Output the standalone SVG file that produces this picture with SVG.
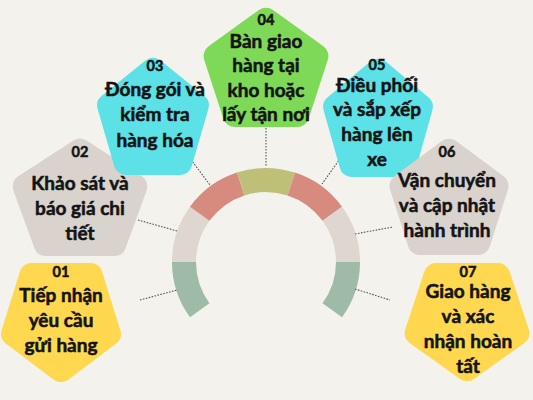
<svg xmlns="http://www.w3.org/2000/svg" width="533" height="400" viewBox="0 0 533 400">
<style>
.bg{fill:#F3F2EC}
.seg{fill:none;stroke-width:24}
.sg{stroke:#9DBBA6}.sb{stroke:#DED6CF}.sr{stroke:#D68B7E}.so{stroke:#BEC078}
.dot{stroke:#555;stroke-width:1.1;stroke-dasharray:1.6 1.4;fill:none}
.pent{stroke-width:24;stroke-linejoin:round}
.yel{fill:#FFD84F;stroke:#FFD84F}
.bei{fill:#DAD3CD;stroke:#DAD3CD}
.cya{fill:#5CE1E6;stroke:#5CE1E6}
.grn{fill:#7ED957;stroke:#7ED957}
text{font-family:Lato,"Noto Sans",sans-serif;font-weight:700;fill:#141414;stroke:#141414;stroke-width:0.55;text-anchor:middle}
.num{font-size:14.5px}
.lbl{font-size:19px}
</style>
<rect class="bg" width="533" height="400"/>
<g id="arc">
<path class="seg sg" d="M199.7 310.2 A82 82 0 0 1 184 262"/>
<path class="seg sb" d="M184 262 A82 82 0 0 1 199.7 213.8"/>
<path class="seg sr" d="M199.7 213.8 A82 82 0 0 1 240.7 184"/>
<path class="seg so" d="M240.7 184 A82 82 0 0 1 291.3 184"/>
<path class="seg sr" d="M291.3 184 A82 82 0 0 1 332.3 213.8"/>
<path class="seg sb" d="M332.3 213.8 A82 82 0 0 1 348 262"/>
<path class="seg sg" d="M348 262 A82 82 0 0 1 332.3 310.2"/>
</g>
<g id="connectors">
<line class="dot" x1="140" y1="300" x2="177" y2="290"/>
<line class="dot" x1="138" y1="220" x2="177" y2="231"/>
<line class="dot" x1="189" y1="157" x2="210" y2="185"/>
<line class="dot" x1="266" y1="128" x2="266" y2="166"/>
<line class="dot" x1="342" y1="156" x2="322" y2="184"/>
<line class="dot" x1="355" y1="234" x2="393" y2="227"/>
<line class="dot" x1="355" y1="289" x2="390" y2="300"/>
</g>
<g id="node01">
<polygon class="pent yel" points="61,370.3 13.1,333.9 31.4,275 90.6,275 108.9,333.9"/>
<text class="num" x="61" y="277">01</text>
<text class="lbl" x="61" y="302">Tiếp nhận</text>
<text class="lbl" x="61" y="327">yêu cầu</text>
<text class="lbl" x="61" y="352">gửi hàng</text>
</g>
<g id="node02">
<polygon class="pent bei" points="80,150.7 135.4,186.4 114.3,244 45.7,244 24.6,186.4"/>
<text class="num" x="80" y="157">02</text>
<text class="lbl" x="80" y="190">Khảo sát và</text>
<text class="lbl" x="80" y="215">báo giá chi</text>
<text class="lbl" x="80" y="240">tiết</text>
</g>
<g id="node03">
<polygon class="pent cya" points="153,69.7 196.9,105.4 180.2,163 125.8,163 109.1,105.4"/>
<text class="num" x="155" y="71">03</text>
<text class="lbl" x="155" y="96">Đóng gói và</text>
<text class="lbl" x="155" y="121">kiểm tra</text>
<text class="lbl" x="155" y="147">hàng hóa</text>
</g>
<g id="node04">
<polygon class="pent grn" points="266,19.7 316.4,56.1 297.2,115 234.8,115 215.6,56.1"/>
<text class="num" x="266" y="25">04</text>
<text class="lbl" x="266" y="48">Bàn giao</text>
<text class="lbl" x="266" y="72">hàng tại</text>
<text class="lbl" x="266" y="97">kho hoặc</text>
<text class="lbl" x="266" y="121">lấy tận nơi</text>
</g>
<g id="node05">
<polygon class="pent cya" points="378,70.7 420.9,106.7 404.5,164.9 351.5,164.9 335.1,106.7"/>
<text class="num" x="377" y="70">05</text>
<text class="lbl" x="377" y="92">Điều phối</text>
<text class="lbl" x="377" y="116">và sắp xếp</text>
<text class="lbl" x="377" y="141">hàng lên</text>
<text class="lbl" x="377" y="166">xe</text>
</g>
<g id="node06">
<polygon class="pent bei" points="449,150.7 496.5,185.9 478.3,243 419.7,243 401.5,185.9"/>
<text class="num" x="447" y="157">06</text>
<text class="lbl" x="447" y="187">Vận chuyển</text>
<text class="lbl" x="447" y="212">và cập nhật</text>
<text class="lbl" x="447" y="237">hành trình</text>
</g>
<g id="node07">
<polygon class="pent yel" points="467,369.3 416.6,333.3 435.8,275.1 498.2,275.1 517.4,333.3"/>
<text class="num" x="468" y="277">07</text>
<text class="lbl" x="468" y="298">Giao hàng</text>
<text class="lbl" x="468" y="323">và xác</text>
<text class="lbl" x="468" y="348">nhận hoàn</text>
<text class="lbl" x="468" y="373">tất</text>
</g>
</svg>
